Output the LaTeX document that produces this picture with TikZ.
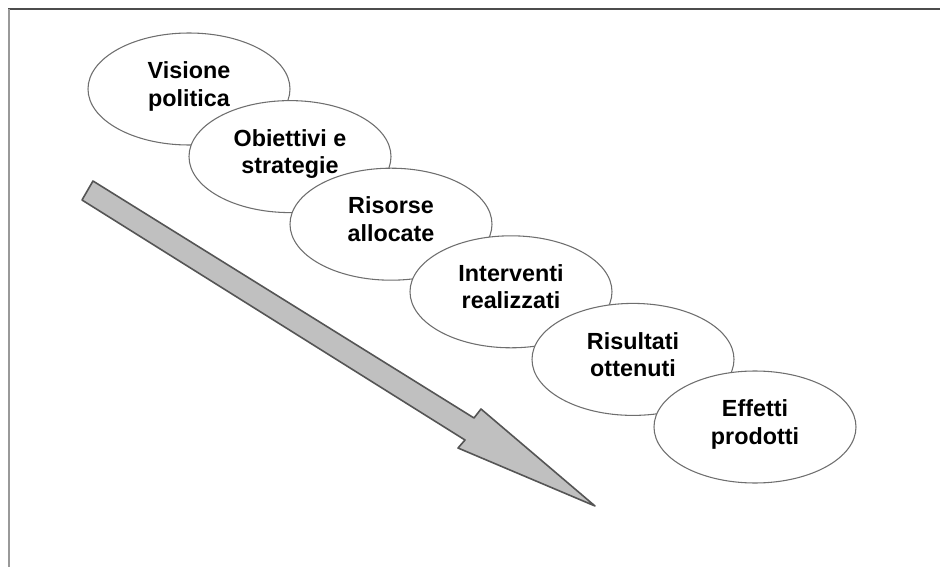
\documentclass[tikz,border=0pt]{standalone}
\usepackage{fontspec}
\setmainfont{Liberation Sans}
\usepackage{tikz}
\usetikzlibrary{shapes.geometric,positioning}
\definecolor{rimgray}{HTML}{6E6E6E}
\definecolor{arrowfill}{HTML}{C0C0C0}
\definecolor{arrowrim}{HTML}{555555}

\begin{document}
\begin{tikzpicture}[x=0.75pt,y=-0.75pt,node distance=50.7pt and 75.75pt,on grid,
    phase/.style={ellipse,draw=rimgray,line width=0.8pt,fill=white,
      minimum width=151.5pt,minimum height=84pt,inner sep=0pt,
      align=center,text depth=7.5pt,
      font=\fontsize{17.5}{20.5}\selectfont\bfseries}]
    \useasboundingbox (0,0) rectangle (940,567);
    % frame
    \draw[color=black!70,line width=1.5pt] (8,9.5) -- (940,9.5);
    \draw[color=black!40,line width=1.5pt] (8.5,9.5) -- (8.5,567);
    % big arrow
    \draw[fill=arrowfill,draw=arrowrim,line width=1.2pt,line join=round]
      (93,181) -- (474,418) -- (481,409) -- (595,506) -- (458,448)
      -- (465,440) -- (82,200) -- cycle;
    % phases
    \node[phase] (p_1) at (189,89)                          {Visione\\politica};
    \node[phase] (p_2) [below right=of p_1]                 {Obiettivi e\\strategie};
    \node[phase] (p_3) [below right=of p_2]                 {Risorse\\allocate};
    \node[phase] (p_4) [below right=50.7pt and 90pt of p_3] {Interventi\\realizzati};
    \node[phase] (p_5) [below right=50.7pt and 91.5pt of p_4] {Risultati\\ottenuti};
    \node[phase] (p_6) [below right=50.7pt and 91.5pt of p_5] {Effetti\\prodotti};
\end{tikzpicture}
\end{document}
